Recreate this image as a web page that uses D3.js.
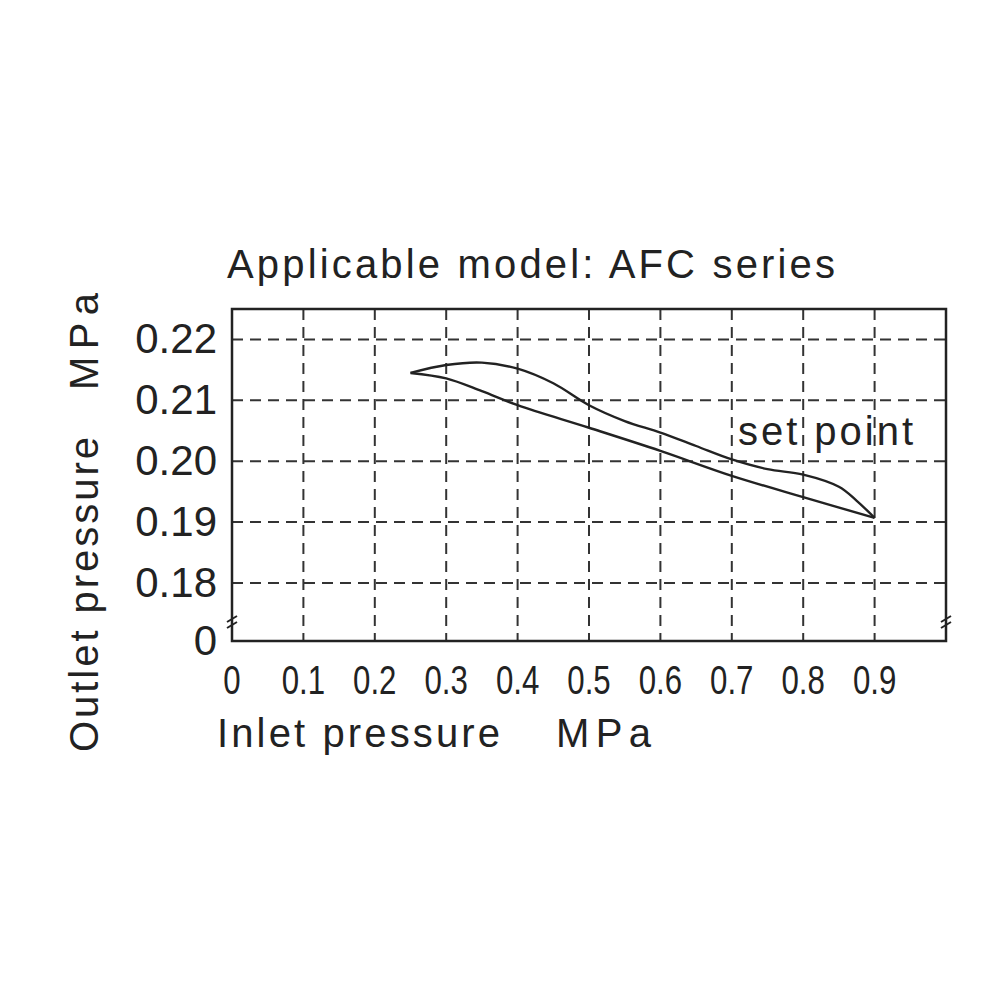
<!DOCTYPE html><html><head><meta charset="utf-8"><script src="https://cdn.jsdelivr.net/npm/d3@7"></script>
<style>body{margin:0;background:#fff}text{font-family:"Liberation Sans",Arial,sans-serif;fill:#222}</style></head><body>
<script>
const xTicks=[0,0.1,0.2,0.3,0.4,0.5,0.6,0.7,0.8,0.9];
const xLabels=["0","0.1","0.2","0.3","0.4","0.5","0.6","0.7","0.8","0.9"];
const yTicks=[0,0.18,0.19,0.20,0.21,0.22];
const yLabels=["0","0.18","0.19","0.20","0.21","0.22"];
const upperX=[0.25,0.3,0.35,0.4,0.45,0.5,0.55,0.6,0.65,0.7,0.75,0.8,0.85,0.875,0.9];
const upperY=[0.2145,0.2158,0.2162,0.2152,0.2128,0.2092,0.2066,0.2047,0.2025,0.2003,0.1987,0.1978,0.1958,0.1935,0.1907];
const lowerX=[0.25,0.3,0.35,0.4,0.5,0.6,0.7,0.8,0.9];
const lowerY=[0.2145,0.2136,0.2115,0.2092,0.2055,0.2017,0.1976,0.1941,0.1907];
const svg=d3.select("body").append("svg").attr("width",1000).attr("height",1000);
const x=d3.scaleLinear().domain([0,1]).range([232,946]);
const y=d3.scaleLinear().domain([0,0.18,0.225]).range([641,583,309]);
const g=svg.append("g");
xTicks.slice(1).forEach(t=>g.append("line").attr("x1",x(t)).attr("x2",x(t)).attr("y1",309).attr("y2",641).attr("stroke","#333").attr("stroke-width",2).attr("stroke-dasharray","11,7"));
yTicks.slice(1).forEach(t=>g.append("line").attr("x1",232).attr("x2",946).attr("y1",y(t)).attr("y2",y(t)).attr("stroke","#333").attr("stroke-width",2).attr("stroke-dasharray","11,7"));
g.append("rect").attr("x",232).attr("y",309).attr("width",714).attr("height",332).attr("fill","none").attr("stroke","#222").attr("stroke-width",2.5);
[232,946].forEach(px=>g.append("path").attr("d",`M${px-5},628 L${px+5},622 M${px-5},622 L${px+5},616`).attr("stroke","#222").attr("stroke-width",2).attr("fill","none"));
xTicks.forEach((t,i)=>svg.append("text").attr("x",x(t)).attr("y",694).attr("text-anchor","middle").attr("font-size",40).attr("transform",`translate(${x(t)},0) scale(0.78,1) translate(${-x(t)},0)`).text(xLabels[i]));
yTicks.forEach((t,i)=>svg.append("text").attr("x",217).attr("y",y(t)+14).attr("text-anchor","end").attr("font-size",42).text(yLabels[i]));
const line=d3.line().x(d=>x(d[0])).y(d=>y(d[1])).curve(d3.curveCatmullRom);
svg.append("path").attr("d",line(upperX.map((v,i)=>[v,upperY[i]]))).attr("fill","none").attr("stroke","#222").attr("stroke-width",2.4);
svg.append("path").attr("d",line(lowerX.map((v,i)=>[v,lowerY[i]]))).attr("fill","none").attr("stroke","#222").attr("stroke-width",2.4);
svg.append("text").attr("x",227).attr("y",278).attr("font-size",40).attr("textLength",608).text("Applicable model: AFC series");
svg.append("text").attr("x",738).attr("y",445).attr("font-size",40).attr("textLength",175).text("set point");
svg.append("text").attr("x",217).attr("y",747).attr("font-size",40).attr("textLength",283).text("Inlet pressure");
svg.append("text").attr("x",556).attr("y",747).attr("font-size",40).attr("textLength",95).text("MPa");
svg.append("text").attr("transform","translate(98,752) rotate(-90)").attr("font-size",40).attr("textLength",315).text("Outlet pressure");
svg.append("text").attr("transform","translate(98,390) rotate(-90)").attr("font-size",40).attr("textLength",97).text("MPa");
</script></body></html>
